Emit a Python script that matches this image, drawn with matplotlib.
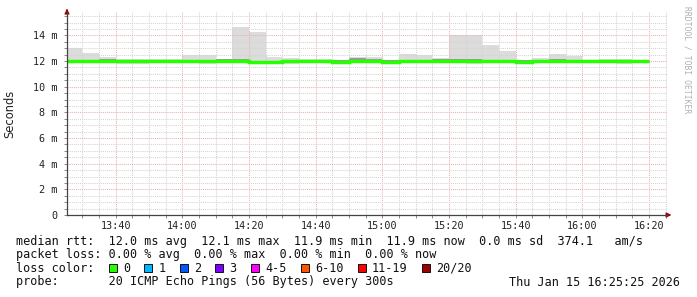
import numpy as np
import matplotlib
matplotlib.use("Agg")
import matplotlib.pyplot as plt
from matplotlib.patches import Rectangle
from matplotlib.ticker import MultipleLocator, FuncFormatter

# 5 minute slots (start times) shown on the graph
slot_start = ["13:25", "13:30", "13:35", "13:40", "13:45", "13:50", "13:55",
              "14:00", "14:05", "14:10", "14:15", "14:20", "14:25", "14:30",
              "14:35", "14:40", "14:45", "14:50", "14:55", "15:00", "15:05",
              "15:10", "15:15", "15:20", "15:25", "15:30", "15:35", "15:40",
              "15:45", "15:50", "15:55", "16:00", "16:05", "16:10", "16:15"]
slot_end = "16:20"

# values in ms
smoke_max = [13.05, 12.62, 12.30, 12.15, 12.12, 12.15, 12.12, 12.50, 12.50, 12.15,
             14.63, 14.24, 12.32, 12.24, 12.12, 12.12, 12.08, 12.32, 12.30, 12.10,
             12.52, 12.45, 12.26, 14.03, 14.05, 13.25, 12.78, 12.08, 12.20, 12.52,
             12.40, 12.08, 12.18, 12.18, 12.05]
smoke_min = [11.90, 11.90, 11.88, 11.78, 11.80, 11.90, 11.90, 11.88, 11.78, 11.90,
             11.95, 11.88, 11.88, 11.78, 11.88, 11.90, 11.80, 11.88, 11.88, 11.80,
             11.88, 11.88, 11.88, 11.88, 11.80, 11.88, 11.90, 11.85, 11.90, 11.90,
             11.88, 11.90, 11.88, 11.80, 11.88]
inner_hi = [12.10, 12.10, 12.12, 12.10, 12.08, 12.10, 12.10, 12.10, 12.10, 12.12,
            12.13, 12.04, 12.04, 12.08, 12.10, 12.10, 12.06, 12.20, 12.18, 12.06,
            12.10, 12.10, 12.12, 12.14, 12.14, 12.10, 12.10, 12.06, 12.07, 12.15,
            12.08, 12.08, 12.10, 12.08, 12.07]
inner_lo = [11.92, 11.92, 11.90, 11.82, 11.84, 11.92, 11.92, 11.90, 11.86, 11.92,
            11.95, 11.84, 11.84, 11.86, 11.90, 11.90, 11.85, 11.88, 11.88, 11.86,
            11.90, 11.90, 11.90, 11.92, 11.90, 11.90, 11.90, 11.85, 11.88, 11.92,
            11.88, 11.88, 11.90, 11.86, 11.87]
median = [12.02, 12.02, 12.02, 12.00, 12.00, 12.02, 12.02, 12.00, 12.00, 12.02,
          12.03, 11.93, 11.93, 11.97, 12.00, 12.00, 11.95, 11.97, 11.97, 11.95,
          12.00, 12.00, 12.00, 12.02, 12.02, 12.00, 12.00, 11.95, 11.97, 12.03,
          11.98, 11.98, 12.00, 11.98, 11.97]

view_start = "13:25:25"
view_end = "16:25:25"

loss_labels = ["0", "1", "2", "3", "4-5", "6-10", "11-19", "20/20"]
loss_colors = ["#26ff00", "#00b8ff", "#0059ff", "#7e00ff", "#ff00fe", "#ff5500", "#ff0000", "#a10000"]

legend_rtt = "median rtt:  12.0 ms avg  12.1 ms max  11.9 ms min  11.9 ms now  0.0 ms sd  374.1   am/s"
legend_loss = "packet loss: 0.00 % avg  0.00 % max  0.00 % min  0.00 % now"
legend_probe = "probe:       20 ICMP Echo Pings (56 Bytes) every 300s"
stamp = "Thu Jan 15 16:25:25 2026"


def to_min(s):
    parts = [int(p) for p in s.split(":")]
    while len(parts) < 3:
        parts.append(0)
    return parts[0] * 60 + parts[1] + parts[2] / 60.0


edges = [to_min(s) for s in slot_start] + [to_min(slot_end)]

W, H = 697, 297
fig = plt.figure(figsize=(W / 100, H / 100), dpi=100)
ax = fig.add_axes([67 / W, 1 - 215 / H, 600 / W, 203 / H])

ax.stairs(smoke_max, edges, baseline=smoke_min, fill=True, color="#dcdcdc", lw=0, zorder=1)
ax.stairs(inner_hi, edges, baseline=inner_lo, fill=True, color="#9a9a9a", lw=0, zorder=2)
ax.stairs(median, edges, baseline=None, color=loss_colors[0], lw=2.5, zorder=3)

ax.set_xlim(to_min(view_start), to_min(view_end))
ax.set_ylim(0, 15.82)

ax.xaxis.set_major_locator(MultipleLocator(20))
ax.xaxis.set_minor_locator(MultipleLocator(5))
ax.yaxis.set_major_locator(MultipleLocator(2))
ax.yaxis.set_minor_locator(MultipleLocator(0.5))
ax.xaxis.set_major_formatter(FuncFormatter(lambda v, p: "%02d:%02d" % (int(v // 60), int(round(v % 60)))))
ax.yaxis.set_major_formatter(FuncFormatter(lambda v, p: "0" if v == 0 else "%d m" % round(v)))

ax.grid(which="minor", color="#d4d4d4", lw=0.75, ls=(0, (1, 1)), zorder=4)
ax.grid(which="major", color="#eab0b0", lw=0.75, ls=(0, (1, 1)), zorder=4)
ax.set_axisbelow(False)

ax.tick_params(which="both", direction="out", color="#888888", length=2, width=0.7,
               labelsize=7.3, labelcolor="#222222")
ax.tick_params(axis="x", pad=2)
ax.tick_params(axis="y", pad=5)
for lab in ax.get_xticklabels() + ax.get_yticklabels():
    lab.set_family("DejaVu Sans Mono")

for s in ["top", "right"]:
    ax.spines[s].set_visible(False)
for s in ["left", "bottom"]:
    ax.spines[s].set_color("#444444")
    ax.spines[s].set_linewidth(0.9)
    ax.spines[s].set_zorder(5)

# rrdtool style arrows at axis ends
ax.annotate("", xy=(1.012, 0), xytext=(0.995, 0), xycoords="axes fraction",
            arrowprops=dict(arrowstyle="-|>", lw=0.9, mutation_scale=7,
                            fc="#a00000", ec="#a00000"), annotation_clip=False)
ax.annotate("", xy=(0, 1.03), xytext=(0, 0.99), xycoords="axes fraction",
            arrowprops=dict(arrowstyle="-|>", lw=0.9, mutation_scale=7,
                            fc="#a00000", ec="#a00000"), annotation_clip=False)

fig.text(10 / W, 1 - 114 / H, "Seconds", rotation=90, ha="center", va="center",
         fontsize=8.3, color="#222222", family="DejaVu Sans")
fig.text(687 / W, 1 - 6 / H, "RRDTOOL / TOBI OETIKER", rotation=270, ha="center", va="top",
         fontsize=5.8, color="#b0b0b0", family="DejaVu Sans Mono")

mono = dict(family="DejaVu Sans Mono", fontsize=8.5, color="#111111", va="center")
fig.text(16 / W, 1 - 241 / H, legend_rtt, **mono)
fig.text(16 / W, 1 - 254.5 / H, legend_loss, **mono)
fig.text(16 / W, 1 - 268 / H, "loss color:", **mono)
fig.text(16 / W, 1 - 282 / H, legend_probe, **mono)
fig.text(680 / W, 1 - 282 / H, stamp, ha="right", **mono)

char_w = 7.12
col = 13
for lab, c in zip(loss_labels, loss_colors):
    x0 = 16 + col * char_w
    fig.patches.append(Rectangle((x0 / W, 1 - 272 / H), 8 / W, 8 / H, transform=fig.transFigure,
                                 fc=c, ec="#111111", lw=0.7))
    fig.text((16 + (col + 2) * char_w) / W, 1 - 268 / H, lab, **mono)
    col += 2 + len(lab) + 2

fig.savefig("out.png", dpi=100)
